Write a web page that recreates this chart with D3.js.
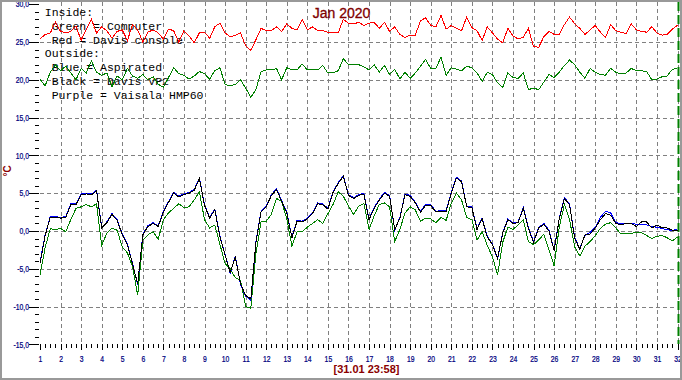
<!DOCTYPE html>
<html><head><meta charset="utf-8">
<script src="https://cdn.jsdelivr.net/npm/d3@7"></script>
<style>body{margin:0;background:#fff;} svg{display:block}</style>
</head><body>
<svg id="c" width="682" height="380"></svg>
<script>
// time grid: day of month, every 6 hours (1.00 .. 32.00)
const startDay = 1, stepDay = 0.25;

const redInside = [
25.4,26.0,26.2,27.6, 26.4,26.2,26.4,27.1, 25.2,26.7,28.0,26.2, 27.0,26.5,25.5,26.4,
26.6,25.2,27.3,26.6, 25.0,26.3,26.6,26.2, 25.4,26.7,26.5,25.0, 26.5,25.8,24.9,26.2,
26.3,25.5,27.0,27.5, 26.2,25.7,25.9,26.2, 24.5,23.9,25.3,26.8, 26.5,26.5,27.0,26.4,
27.4,26.8,26.6,28.0, 26.6,27.0,26.5,26.5, 26.3,26.2,26.2,28.0, 27.5,27.4,27.6,27.2,
27.5,27.6,26.8,27.6, 26.4,27.0,26.0,25.6, 25.9,25.9,27.8,28.2, 27.2,27.0,28.5,26.7,
27.2,26.8,26.5,28.3, 26.9,26.5,25.2,27.0, 26.2,25.4,24.9,26.8, 25.8,25.4,25.6,26.8,
24.4,24.3,25.7,26.4, 26.0,26.0,27.3,28.3, 27.4,26.8,26.0,26.6, 27.2,26.3,25.6,27.3,
26.5,26.3,26.1,27.4, 26.6,26.4,26.3,27.0, 26.2,25.9,26.0,26.7, 27.2];

const greenInside = [
20.1,19.2,21.0,22.0, 21.2,21.8,20.9,20.0, 21.5,20.9,22.5,21.0, 20.6,20.9,19.1,20.5,
20.0,21.5,20.5,20.2, 20.7,20.0,20.4,19.4, 19.0,20.3,21.6,20.8, 20.6,20.1,20.5,21.1,
20.8,20.1,21.2,21.6, 19.4,19.2,19.4,20.0, 18.9,17.7,18.7,21.1, 21.3,21.3,21.5,20.0,
21.6,21.3,21.3,22.1, 21.3,21.3,21.3,21.9, 20.9,20.9,21.2,22.8, 22.0,22.0,22.0,21.7,
21.3,22.0,21.0,21.9, 20.7,21.4,20.1,21.0, 20.2,20.9,21.8,22.7, 21.5,21.5,23.0,20.6,
21.6,21.4,21.2,21.8, 21.6,20.9,19.8,21.0, 20.7,19.6,19.0,20.9, 20.3,20.2,20.9,18.7,
18.9,18.7,19.7,20.7, 20.3,21.0,21.9,22.6, 22.0,21.0,20.2,21.5, 21.0,20.7,20.6,21.5,
21.0,20.8,20.9,21.5, 21.2,21.2,21.1,20.0, 20.1,20.4,20.5,21.4, 21.5];

const blueAspirated = [
-4.1,-0.5,1.9,1.9, 1.8,1.9,3.6,3.6, 4.9,5.0,4.9,5.4, 0.5,1.2,2.3,1.5,
-0.4,-1.7,-4.3,-7.1, -0.4,0.7,1.1,0.7, 2.6,3.9,5.1,4.6, 4.9,5.1,5.5,7.0,
3.5,1.8,2.9,-0.7, -3.1,-5.6,-3.3,-7.1, -8.6,-9.2,-1.4,2.6, 3.3,4.8,5.6,4.0,
2.5,-0.8,1.4,1.3, 1.7,2.4,3.7,3.6, 3.0,5.2,6.4,7.3, 4.8,4.4,4.8,5.0,
1.6,3.1,4.2,5.1, 4.7,0.1,1.8,4.9, 4.7,3.8,2.6,3.5, 3.5,2.6,2.7,2.7,
5.1,7.1,6.6,3.3, 3.2,0.3,1.7,-0.7, -1.7,-3.7,-0.2,1.6, 1.1,1.2,3.1,0.4,
-1.4,0.5,1.0,0.1, -2.5,1.7,4.4,3.6, -0.9,-2.3,-0.6,-0.2, 0.5,1.8,2.6,2.4,
1.1,1.0,1.0,1.0, 0.9,0.9,0.8,0.6, 0.5,0.3,0.2,0.0, 0.3];

const blackDavisVP2 = [
-4.3,-0.6,1.8,1.8, 1.7,1.8,3.5,3.5, 4.8,4.9,4.8,5.3, 0.4,1.1,2.2,1.4,
-0.5,-1.8,-4.4,-7.0, -0.5,0.6,1.0,0.6, 2.5,3.8,5.0,4.5, 4.8,5.0,5.4,6.9,
3.4,1.7,2.8,-0.8, -3.2,-5.5,-3.5,-7.0, -8.5,-9.0,-1.5,2.5, 3.2,4.7,5.5,3.9,
2.4,-0.9,1.3,1.2, 1.6,2.3,3.6,3.5, 2.9,5.1,6.3,7.2, 4.7,4.3,4.7,4.9,
1.5,3.0,4.1,5.0, 4.6,0.2,1.7,4.8, 4.6,3.7,2.5,3.4, 3.4,2.5,2.6,2.6,
5.0,7.0,6.5,3.2, 3.1,0.2,1.6,-0.8, -1.8,-3.6,-0.3,1.5, 1.0,1.1,3.0,0.3,
-1.5,0.4,0.9,0.0, -2.6,1.6,4.3,3.5, -1.0,-2.4,-0.5,-0.4, 0.4,1.5,2.3,2.1,
1.0,0.8,1.0,1.0, 0.6,1.2,1.2,0.4, 0.8,0.4,0.4,0.1, 0.0];

const greenOutside = [
-5.8,-2.2,0.3,0.2, 0.35,-0.1,1.5,3.0, 3.2,3.5,3.2,3.6, -1.9,-0.3,0.35,0.1,
-2.1,-2.9,-4.7,-8.5, -1.2,-0.5,-0.1,-1.1, 1.5,2.4,3.0,3.6, 3.1,3.2,4.1,5.2,
1.5,0.4,0.8,-1.8, -4.3,-5.0,-6.2,-6.5, -10.0,-10.2,-3.0,1.2, 1.3,2.2,4.3,3.9,
1.6,-2.0,-0.1,-0.1, 0.5,1.0,1.5,1.0, 2.3,3.5,5.2,4.6, 3.3,2.2,3.3,3.6,
0.2,2.0,3.5,3.7, 3.2,-1.4,0.2,2.4, 3.2,2.8,1.3,1.7, 1.6,1.1,1.8,1.4,
3.7,5.0,4.1,1.8, 1.5,-1.2,-0.1,-1.9, -3.4,-5.8,-1.5,0.5, 0.2,0.8,1.5,-1.4,
-1.8,-1.2,-0.4,-2.5, -4.6,0.5,3.5,1.5, -2.1,-3.3,-2.0,-1.4, -0.6,0.35,0.9,1.1,
0.4,-0.4,-0.3,-0.3, -0.2,-0.2,-0.6,-1.0, -0.7,-0.6,-0.9,-1.3, -0.8];

const yTicks = [-15,-10,-5,0,5,10,15,20,25,30];
const yGridValues = [-10,-5,0,5,10,15,20,25];
const xTicks = [1,2,3,4,5,6,7,8,9,10,11,12,13,14,15,16,17,18,19,20,21,22,23,24,25,26,27,28,29,30,31,32];
const legendLines = ["Inside:"," Green = Computer"," Red = Davis console","Outside:"," Blue = Aspirated"," Black = Davis VP2"," Purple = Vaisala HMP60"];
const titleText = "Jan 2020";
const stampText = "[31.01 23:58]";
const unitText = "\u00B0C";

const days = redInside.map((_, i) => startDay + i * stepDay);

const svg = d3.select("#c");
svg.append("rect").attr("width", 682).attr("height", 380).attr("fill", "#fff");

const x = d3.scaleLinear().domain([1, 32]).range([40, 677.5]);
const y = d3.scaleLinear().domain([-15, 30]).range([344.4, 4.2]);

// grid
const grid = svg.append("g").attr("stroke", "#808080").attr("stroke-width", 1)
  .attr("stroke-dasharray", "4,3").attr("shape-rendering", "crispEdges");
grid.selectAll("line.v").data(xTicks.filter(d => d > 1)).join("line")
  .attr("class", "v")
  .attr("x1", d => Math.round(x(d)) + 0.5).attr("x2", d => Math.round(x(d)) + 0.5)
  .attr("y1", 2).attr("y2", 344);
grid.selectAll("line.h").data(yGridValues).join("line")
  .attr("class", "h")
  .attr("y1", d => Math.round(y(d)) + 0.5).attr("y2", d => Math.round(y(d)) + 0.5)
  .attr("x1", 40).attr("x2", 677);

// current-time marker
svg.append("line")
  .attr("x1", Math.round(x(32)) + 0.5).attr("x2", Math.round(x(32)) + 0.5)
  .attr("y1", 2).attr("y2", 344)
  .attr("stroke", "#008000").attr("stroke-width", 2).attr("stroke-dasharray", "9,4");

// axes
const labelFont = "'Liberation Sans', Arial, sans-serif";
const yMinor = d3.range(-15, 30.5, 1);
const gyMinor = svg.append("g").attr("transform", "translate(39,0)")
  .call(d3.axisLeft(y).tickValues(yMinor).tickSize(4).tickFormat(""));
gyMinor.select(".domain").remove();
const gy = svg.append("g").attr("transform", "translate(39,0)")
  .call(d3.axisLeft(y).tickValues(yTicks).tickSize(10)
    .tickFormat(d => d.toFixed(1).replace(".", ",")));
gy.select(".domain").remove();
gy.selectAll("text").attr("x", 0).attr("dy", "0.3em")
  .attr("transform", "translate(-10,0) scale(0.74,1)")
  .attr("fill", "#000080").attr("stroke", "#000080").attr("stroke-width", 0.25)
  .style("font-family", labelFont).style("font-size", "9.2px");

const xMinor = d3.range(1, 32.01, 0.25).filter(d => d % 1 !== 0);
const gxMinor = svg.append("g").attr("transform", "translate(0,344)")
  .call(d3.axisBottom(x).tickValues(xMinor).tickSize(4).tickFormat(""));
gxMinor.select(".domain").remove();
const gx = svg.append("g").attr("transform", "translate(0,344)")
  .call(d3.axisBottom(x).tickValues(xTicks).tickSize(6).tickFormat(d => String(d)));
gx.select(".domain").remove();
gx.selectAll("text").attr("y", 0).attr("dy", 0)
  .attr("transform", "translate(0,18.2) scale(0.74,1)")
  .attr("fill", "#000080").attr("stroke", "#000080").attr("stroke-width", 0.25)
  .style("font-family", labelFont).style("font-size", "9.2px");
svg.selectAll(".tick line").attr("shape-rendering", "crispEdges");

// legend
svg.append("g").selectAll("text").data(legendLines).join("text")
  .attr("x", 44.8).attr("y", (d, i) => 16 + i * 13.8)
  .style("white-space", "pre").attr("xml:space", "preserve")
  .style("font-family", "'Liberation Mono', 'Courier New', monospace")
  .style("font-size", "11.5px").attr("fill", "#000")
  .text(d => d);

// series
const line = d3.line().x((d, i) => x(days[i])).y(d => y(d));
const series = [
  [redInside, "#ff0000"],
  [greenInside, "#008000"],
  [greenOutside, "#008000"],
  [blueAspirated, "#0000ff"],
  [blackDavisVP2, "#000000"]
];
svg.append("g").selectAll("path").data(series).join("path")
  .attr("d", d => line(d[0]))
  .attr("fill", "none").attr("stroke", d => d[1]).attr("stroke-width", 1)
  .attr("shape-rendering", "crispEdges");

// texts
svg.append("text").attr("x", 341.5).attr("y", 17.5).attr("text-anchor", "middle")
  .style("font-family", "'Liberation Sans', Arial, sans-serif").style("font-size", "14px")
  .attr("fill", "#800000").attr("stroke", "#800000").attr("stroke-width", 0.3).text(titleText);
svg.append("text").attr("x", 366.5).attr("y", 373).attr("text-anchor", "middle")
  .style("font-family", "'Liberation Sans', Arial, sans-serif").style("font-size", "11px")
  .style("font-weight", "bold").attr("fill", "#8b0000").text(stampText);
svg.append("text").attr("transform", "translate(11,171) rotate(-90)").attr("text-anchor", "middle")
  .style("font-family", "'Liberation Sans', Arial, sans-serif").style("font-size", "10px")
  .style("font-weight", "bold").attr("fill", "#8b0000").text(unitText);

// frame
svg.append("rect").attr("x", 1).attr("y", 1).attr("width", 680).attr("height", 378)
  .attr("fill", "none").attr("stroke", "#999").attr("stroke-width", 2);
</script>
</body></html>
